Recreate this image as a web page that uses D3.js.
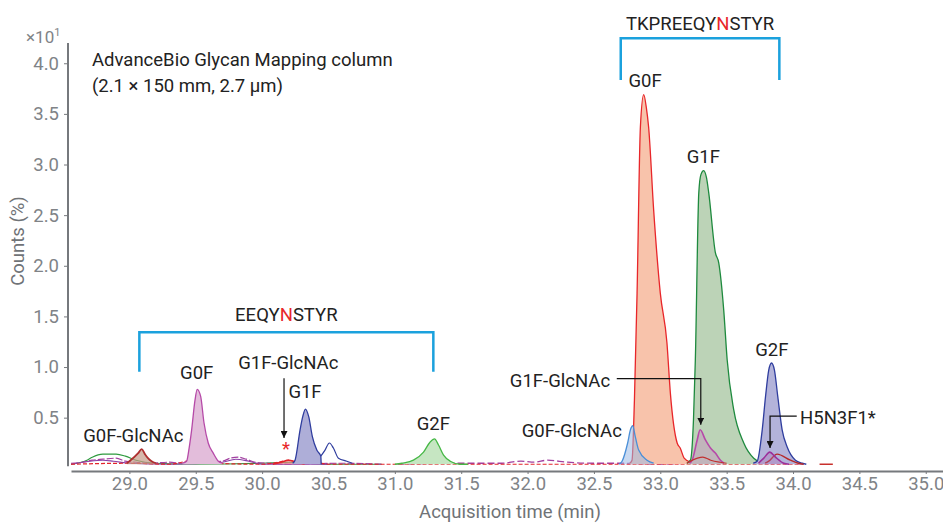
<!DOCTYPE html>
<html>
<head>
<meta charset="utf-8">
<script src="https://cdn.jsdelivr.net/npm/d3@7"></script>
<style>
    body { margin: 0; background: #fff; }
    #chart { width: 943px; height: 525px; }
    text { font-family: Roboto, "Noto Sans", sans-serif; }
</style>
</head>
<body>
<div id="chart"></div>
<script>
/* chromatogram: AdvanceBio glycan mapping, EEQYNSTYR / TKPREEQYNSTYR */

// [time (min), counts (x10 %)]
let g0fGlcnacEEQ = [[28.98,0.05],[29.0,0.07],[29.066,0.15],[29.092,0.19],[29.117,0.14],[29.14,0.1],[29.167,0.07],[29.2,0.05]];
let g0fEEQ = [[29.4,0.05],[29.431,0.07],[29.45,0.2],[29.469,0.38],[29.494,0.67],[29.511,0.78],[29.537,0.71],[29.562,0.45],[29.594,0.25],[29.632,0.15],[29.67,0.07],[29.7,0.05]];
let impurityEEQ = [[30.08,0.04],[30.14,0.06],[30.2,0.08],[30.26,0.06],[30.32,0.04]];
let g1fEEQ = [[30.23,0.05],[30.248,0.08],[30.286,0.38],[30.306,0.51],[30.326,0.585],[30.351,0.51],[30.379,0.31],[30.412,0.18],[30.442,0.12],[30.445,0.04]];
let g1fEEQtail = [[30.442,0.12],[30.474,0.18],[30.507,0.25],[30.537,0.2],[30.575,0.1],[30.638,0.07],[30.68,0.05]];
let g2fEEQ = [[31.0,0.04],[31.053,0.05],[31.14,0.08],[31.216,0.16],[31.266,0.26],[31.299,0.29],[31.329,0.23],[31.367,0.13],[31.417,0.07],[31.492,0.04],[31.55,0.04]];

let g0fGlcnacTKP = [[32.69,0.04],[32.712,0.07],[32.754,0.25],[32.775,0.38],[32.792,0.42],[32.812,0.31],[32.837,0.18],[32.9,0.08],[32.95,0.05]];
let g0fTKP = [[32.77,0.05],[32.787,0.08],[32.805,0.67],[32.825,1.73],[32.85,3.37],[32.875,3.69],[32.895,3.56],[32.912,3.37],[32.95,2.55],[33.0,1.73],[33.05,1.24],[33.076,0.74],[33.127,0.25],[33.15,0.2],[33.18,0.1],[33.227,0.06],[33.26,0.05]];
let g1fTKP = [[33.2,0.05],[33.227,0.08],[33.25,0.48],[33.264,1.07],[33.29,2.72],[33.306,2.9],[33.327,2.94],[33.348,2.87],[33.365,2.72],[33.415,2.13],[33.44,2.03],[33.478,1.56],[33.504,1.07],[33.553,0.58],[33.629,0.25],[33.704,0.1],[33.755,0.06],[33.78,0.05]];
let g1fGlcnacTKP = [[33.22,0.05],[33.24,0.08],[33.278,0.28],[33.3,0.38],[33.34,0.28],[33.378,0.2],[33.415,0.15],[33.453,0.08],[33.48,0.05]];
let g2fTKP = [[33.7,0.05],[33.73,0.07],[33.768,0.38],[33.793,0.71],[33.817,0.97],[33.838,1.04],[33.86,0.97],[33.885,0.71],[33.918,0.38],[33.956,0.21],[34.018,0.08],[34.07,0.05],[34.1,0.04]];
let h5n3f1TKP = [[33.74,0.05],[33.78,0.1],[33.825,0.16],[33.868,0.11],[33.93,0.05],[33.97,0.04]];
let h5n3f1Red = [[33.79,0.05],[33.817,0.07],[33.88,0.14],[33.98,0.08],[34.04,0.05],[34.08,0.04]];
let redUnderG1F = [[33.2,0.05],[33.28,0.1],[33.32,0.11],[33.38,0.08],[33.45,0.06],[33.5,0.05]];

// baseline traces
let purpleNoise = [[28.56,0.05],[28.65,0.06],[28.72,0.08],[28.8,0.09],[28.9,0.1],[28.97,0.07],[29.05,0.06],[29.15,0.05],[29.3,0.06],[29.4,0.05],[29.7,0.07],[29.76,0.1],[29.82,0.11],[29.88,0.09],[29.95,0.06],[30.05,0.05],[30.2,0.04],[30.6,0.05],[30.9,0.04]];
let purpleNoise2 = [[31.02,0.04],[31.5,0.05],[31.8,0.05],[31.95,0.07],[32.05,0.06],[32.15,0.08],[32.3,0.06],[32.5,0.05],[32.7,0.05],[33.0,0.04],[33.2,0.05],[33.6,0.05],[33.75,0.06],[34.1,0.04]];
let violetNoise = [[28.56,0.04],[28.7,0.07],[28.8,0.08],[28.88,0.07],[29.0,0.05],[29.3,0.04],[29.7,0.06],[29.8,0.09],[29.9,0.07],[30.0,0.04],[30.5,0.04]];
let greenNoise = [[28.56,0.04],[28.68,0.08],[28.72,0.11],[28.8,0.14],[28.9,0.14],[28.97,0.12],[29.05,0.08],[29.2,0.05],[29.5,0.04],[30.0,0.05],[30.2,0.06],[30.5,0.04],[30.9,0.04]];
let redNoise = [[28.56,0.04],[29.0,0.05],[29.3,0.04],[29.45,0.08],[29.5,0.1],[29.56,0.09],[29.65,0.05],[30.0,0.04],[30.12,0.06],[30.2,0.08],[30.27,0.06],[30.33,0.07],[30.4,0.06],[30.5,0.04],[31.0,0.04],[31.6,0.04],[32.0,0.04],[32.6,0.04],[33.5,0.04],[34.05,0.04]];
let redNoise2 = [[34.2,0.04],[34.3,0.04]];

// ticks
let xTicks = [29.0, 29.5, 30.0, 30.5, 31.0, 31.5, 32.0, 32.5, 33.0, 33.5, 34.0, 34.5, 35.0];
let yTicks = [0.5, 1.0, 1.5, 2.0, 2.5, 3.0, 3.5, 4.0];

// labels [text, time, counts]
let peakLabels = [
    ["G0F-GlcNAc", 29.03, 0.32], ["G0F", 29.507, 0.95], ["G1F-GlcNAc", 30.197, 1.04],
    ["G1F", 30.323, 0.76], ["G2F", 31.29, 0.44], ["G0F-GlcNAc", 32.333, 0.37],
    ["G1F-GlcNAc", 32.244, 0.87], ["G0F", 32.885, 3.83], ["G1F", 33.324, 3.08], ["G2F", 33.84, 1.17]
];
let arrows = [
    [[30.165, 0.89], [30.165, 0.30]],
    [[32.672, 0.885], [33.305, 0.885], [33.305, 0.43]],
    [[34.028, 0.516], [33.827, 0.516], [33.827, 0.2]]
];
let brackets = [
    {seq: ["EEQY", "N", "STYR"], t0: 29.075, t1: 31.29, top: 1.343, bottom: 0.954, labelV: 1.514},
    {seq: ["TKPREEQY", "N", "STYR"], t0: 32.702, t1: 33.897, top: 4.246, bottom: 3.835, labelV: 4.395}
];

let width = 943, height = 525;
let fs = "18.5px";

let svg = d3.select("#chart").append("svg")
    .attr("width", width)
    .attr("height", height);

let x = d3.scaleLinear().domain([28.56, 35.13]).range([71, 943]);
let y = d3.scaleLinear().domain([0, 4.2]).range([468.3, 43]);

let axisColor = "#76797d";
let tickColor = "#808387";

// axes
let xAxis = d3.axisBottom(x).tickValues(xTicks).tickFormat(d3.format(".1f")).tickSize(3).tickPadding(3).tickSizeOuter(0);
let gx = svg.append("g").attr("transform", "translate(0,471)").call(xAxis);
gx.select(".domain").attr("stroke", axisColor).attr("stroke-width", 2);
gx.selectAll(".tick line").attr("stroke", axisColor);
gx.selectAll(".tick text").attr("fill", tickColor).style("font-size", fs);

let yAxis = d3.axisLeft(y).tickValues(yTicks).tickFormat(d3.format(".1f")).tickSize(4).tickPadding(5).tickSizeOuter(0);
let gy = svg.append("g").attr("transform", "translate(68,0)").call(yAxis);
gy.select(".domain").remove();
gy.append("line").attr("x1", 0).attr("x2", 0).attr("y1", y(4.2)).attr("y2", y(0.02))
    .attr("stroke", axisColor).attr("stroke-width", 2);
gy.selectAll(".tick line").attr("stroke", axisColor);
gy.selectAll(".tick text").attr("fill", tickColor).style("font-size", fs);

svg.append("text").attr("x", 26).attr("y", 43).attr("fill", tickColor).style("font-size", "17px")
    .text("×10").append("tspan").attr("dy", -7).style("font-size", "11px").text("1");

svg.append("text").attr("transform", "translate(24,241) rotate(-90)").attr("text-anchor", "middle")
    .attr("fill", "#707377").style("font-size", fs).text("Counts (%)");
svg.append("text").attr("x", 510).attr("y", 518).attr("text-anchor", "middle")
    .attr("fill", "#707377").style("font-size", fs).text("Acquisition time (min)");

// traces
let line = d3.line().x(d => x(d[0])).y(d => y(d[1])).curve(d3.curveMonotoneX);
let area = d3.area().x(d => x(d[0])).y0(y(0.04)).y1(d => y(d[1])).curve(d3.curveMonotoneX);

let plot = svg.append("g");

function trace(data, stroke, fill, opts) {
    opts = opts || {};
    if (fill) {
        plot.append("path").datum(data).attr("d", area)
            .attr("fill", fill).attr("fill-opacity", opts.fo || 1);
    }
    plot.append("path").datum(data).attr("d", line)
        .attr("fill", "none").attr("stroke", stroke)
        .attr("stroke-width", opts.sw || 1.3)
        .attr("stroke-dasharray", opts.dash || null);
}

trace(greenNoise, "#2e9a3e", null, {sw: 1.1});
trace(violetNoise, "#8a3fa6", null, {sw: 1.1});
trace(purpleNoise, "#a23fa0", null, {sw: 1.2, dash: "7,2"});
trace(purpleNoise2, "#a23fa0", null, {sw: 1.3, dash: "7,3"});
trace(redNoise, "#e3242b", null, {sw: 1.2, dash: "4,2"});
trace(redNoise2, "#c8302c", null, {sw: 1.5});

trace(g0fTKP, "#e8262a", "#f8c3ab");
trace(g1fTKP, "#1e8a3e", "#bcd3b7");
trace(g2fTKP, "#2f3d9e", "#b3b3da");
trace(g0fGlcnacTKP, "#4a8fd8", "#9cb9e4", {fo: 0.55});
trace(g1fGlcnacTKP, "#b64aa8", "#c890c0", {fo: 0.45, sw: 1.6});
trace(redUnderG1F, "#c23030", null, {sw: 1.2});
trace(h5n3f1Red, "#b52a2a", null, {sw: 1.4});
trace(h5n3f1TKP, "#9c2f9a", "#b070b0", {fo: 0.35, sw: 1.6});

trace(g0fGlcnacEEQ, "#ad2f2f", "#c49a88", {fo: 0.7, sw: 1.8});
trace(g0fEEQ, "#b64aa8", "#e3bddb");
trace(impurityEEQ, "#e3242b", "#f08080", {fo: 0.6, sw: 1.6});
trace(g1fEEQ, "#2f3d9e", "#aeaed8");
trace(g1fEEQtail, "#2f3d9e", null, {sw: 1.2});
trace(g2fEEQ, "#46b846", "#c6e6c2");

// brackets and sequence labels
let bracketColor = "#1ba1dd";
brackets.forEach(b => {
    svg.append("path")
        .attr("d", d3.line()([[x(b.t0), y(b.bottom)], [x(b.t0), y(b.top)], [x(b.t1), y(b.top)], [x(b.t1), y(b.bottom)]]))
        .attr("fill", "none").attr("stroke", bracketColor).attr("stroke-width", 2.5);
    let t = svg.append("text").attr("x", x((b.t0 + b.t1) / 2)).attr("y", y(b.labelV)).attr("dy", "0.35em")
        .attr("text-anchor", "middle").attr("fill", "#222").style("font-size", fs);
    b.seq.forEach((s, i) => t.append("tspan").attr("fill", i === 1 ? "#e8262a" : "#222").text(s));
});

// peak labels
peakLabels.forEach(p => {
    svg.append("text").attr("x", x(p[1])).attr("y", y(p[2])).attr("dy", "0.35em")
        .attr("text-anchor", "middle").attr("fill", "#222").style("font-size", fs).text(p[0]);
});
svg.append("text").attr("x", x(34.053)).attr("y", y(0.5)).attr("dy", "0.35em")
    .attr("fill", "#222").style("font-size", fs).text("H5N3F1*");

svg.append("text").attr("x", x(30.18)).attr("y", y(0.2)).attr("dy", "0.35em")
    .attr("text-anchor", "middle").attr("fill", "#e8262a").style("font-size", fs).text("*");

// arrows
svg.append("defs").append("marker")
    .attr("id", "arrow").attr("viewBox", "0 0 10 10").attr("refX", 10).attr("refY", 5)
    .attr("markerWidth", 7).attr("markerHeight", 7).attr("markerUnits", "userSpaceOnUse").attr("orient", "auto")
    .append("path").attr("d", "M0,0L10,5L0,10z").attr("fill", "#111");

arrows.forEach(a => {
    svg.append("path").attr("d", d3.line()(a.map(p => [x(p[0]), y(p[1])])))
        .attr("fill", "none").attr("stroke", "#111").attr("stroke-width", 1.2)
        .attr("marker-end", "url(#arrow)");
});

// column info
let info = svg.append("text").attr("x", 92).attr("y", 60).attr("fill", "#222").style("font-size", fs);
info.append("tspan").attr("x", 92).attr("dy", "0.35em").text("AdvanceBio Glycan Mapping column");
info.append("tspan").attr("x", 92).attr("dy", "26").text("(2.1 × 150 mm, 2.7 µm)");
</script>
</body>
</html>
